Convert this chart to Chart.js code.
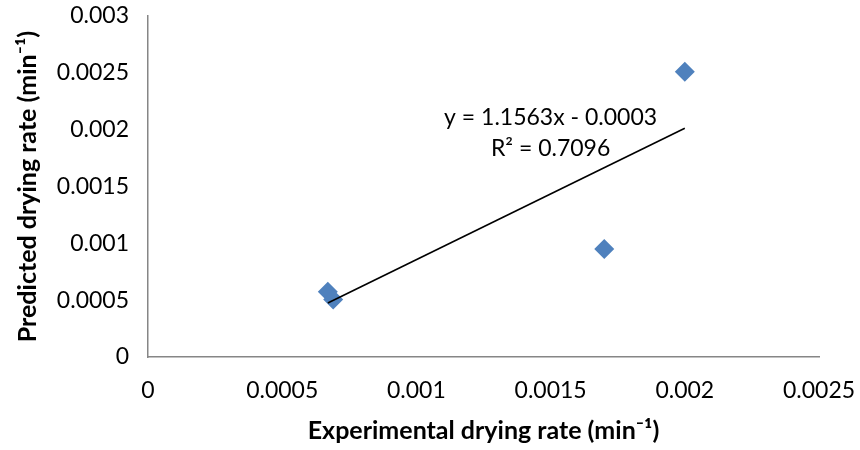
<!DOCTYPE html>
<html>
<head>
<meta charset="utf-8">
<script src="https://cdn.jsdelivr.net/npm/chart.js@4.4.0/dist/chart.umd.min.js"></script>
<style>
  html, body { margin: 0; padding: 0; background: #fff; }
  #wrap { width: 860px; height: 450px; }
</style>
</head>
<body>
<div id="wrap"><canvas id="myChart" width="860" height="450"></canvas></div>
<script>
// data
const experimental = [0.00067, 0.00069, 0.0017, 0.002];
const predicted = [0.000575, 0.000505, 0.00095, 0.00251];

// trendline as printed on the chart
const slope = 1.1563;
const intercept = -0.0003;
const trendLabel = ['y = 1.1563x - 0.0003', 'R\u00B2 = 0.7096'];

const xTicks = [0, 0.0005, 0.001, 0.0015, 0.002, 0.0025];
const yTicks = [0, 0.0005, 0.001, 0.0015, 0.002, 0.0025, 0.003];

const FONT = 'Lato, "Open Sans", sans-serif';
const axisGrey = '#868686';

const points = experimental.map((x, i) => ({ x: x, y: predicted[i] }));
const xMin = Math.min(...experimental);
const xMax = Math.max(...experimental);
const trend = [
  { x: xMin, y: slope * xMin + intercept },
  { x: xMax, y: slope * xMax + intercept }
];

// equation text next to the line
const equationPlugin = {
  id: 'equation',
  afterDatasetsDraw(chart) {
    const ctx = chart.ctx;
    const xs = chart.scales.x, ys = chart.scales.y;
    const cx = xs.getPixelForValue(0.0015);
    const cy = ys.getPixelForValue(0.00211);
    ctx.save();
    ctx.fillStyle = '#000';
    ctx.font = '23px ' + FONT;
    ctx.textAlign = 'center';
    ctx.textBaseline = 'middle';
    ctx.fillText(trendLabel[0], cx, cy);
    ctx.fillText(trendLabel[1], cx, cy + 31);
    ctx.restore();
  }
};

const config = {
  type: 'scatter',
  data: {
    datasets: [
      {
        label: 'points',
        data: points,
        pointStyle: 'rectRot',
        pointRadius: 10,
        pointHoverRadius: 10,
        backgroundColor: '#4F81BD',
        borderColor: '#4F81BD',
        borderWidth: 0,
        order: 2
      },
      {
        label: 'trend',
        type: 'line',
        data: trend,
        borderColor: '#000',
        borderWidth: 1.6,
        pointRadius: 0,
        fill: false,
        order: 1
      }
    ]
  },
  options: {
    responsive: false,
    animation: false,
    layout: { padding: { left: 0, right: 41, top: 16, bottom: 0 } },
    plugins: {
      legend: { display: false },
      tooltip: { enabled: false }
    },
    scales: {
      x: {
        type: 'linear',
        min: 0,
        max: 0.0025,
        afterBuildTicks: (s) => { s.ticks = xTicks.map(v => ({ value: v })); },
        afterFit: (s) => { s.height = 93; s.paddingLeft = 0; s.paddingRight = 0; },
        grid: { display: false, drawOnChartArea: false, drawTicks: true, tickLength: 7, tickColor: axisGrey },
        border: { color: axisGrey, width: 1.5 },
        ticks: {
          color: '#000',
          font: { family: FONT, size: 23 },
          padding: 13,
          maxRotation: 0,
          callback: (v) => String(v)
        },
        title: {
          display: true,
          text: 'Experimental drying rate (min\u207B\u00B9)',
          color: '#000',
          font: { family: FONT, size: 25, weight: 'bold' },
          padding: { top: 0, bottom: 4 }
        }
      },
      y: {
        type: 'linear',
        min: 0,
        max: 0.003,
        afterBuildTicks: (s) => { s.ticks = yTicks.map(v => ({ value: v })); },
        afterFit: (s) => { s.width = 148; s.paddingTop = 0; s.paddingBottom = 0; },
        grid: { display: false, drawOnChartArea: false, drawTicks: true, tickLength: 7, tickColor: axisGrey },
        border: { color: axisGrey, width: 1.5 },
        ticks: {
          color: '#000',
          font: { family: FONT, size: 23 },
          padding: 12,
          callback: (v) => String(v)
        },
        title: {
          display: true,
          text: 'Predicted drying rate (min\u207B\u00B9)',
          color: '#000',
          font: { family: FONT, size: 25, weight: 'bold' },
          padding: { top: 13, bottom: 0 }
        }
      }
    }
  },
  plugins: [equationPlugin]
};

const myChart = new Chart(document.getElementById('myChart'), config);
</script>
</body>
</html>
